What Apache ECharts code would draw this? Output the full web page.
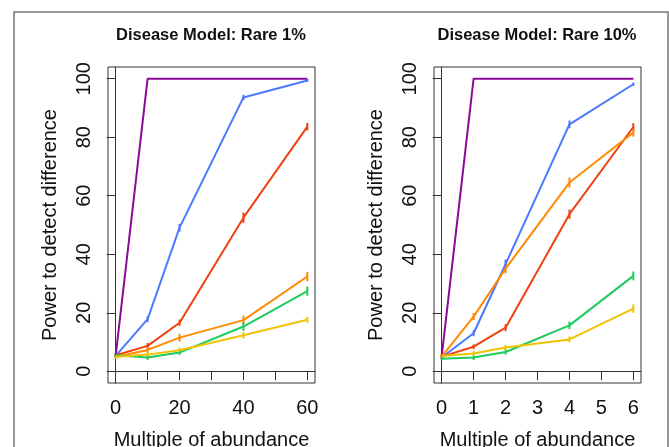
<!DOCTYPE html>
<html>
<head>
<meta charset="utf-8">
<script src="https://cdn.jsdelivr.net/npm/echarts@6/dist/echarts.min.js"></script>
<style>
  html, body { margin: 0; padding: 0; background: #fff; }
  #chart { width: 669px; height: 447px; }
</style>
</head>
<body>
<div id="chart"></div>
<script>
// x positions
const xRare1 = [0, 10, 20, 40, 60]
const xRare10 = [0, 1, 2, 4, 6]
const xTicksRare1 = [0, 10, 20, 30, 40, 50, 60]
const xLabelsRare1 = [0, 20, 40, 60]
const xTicksRare10 = [0, 1, 2, 3, 4, 5, 6]
const yTicks = [0, 20, 40, 60, 80, 100]

// Rare 1% panel (power values, error half-width)
const r1Purple = [5.3, 100, 100, 100, 100]
const r1Blue = [5.3, 17.8, 49.1, 93.6, 99.4]
const r1Red = [5.5, 8.7, 16.6, 52.5, 83.6]
const r1Orange = [4.9, 7.3, 11.5, 17.5, 32.4]
const r1Green = [5.5, 4.7, 6.4, 15.3, 27.4]
const r1Yellow = [5.0, 5.7, 7.2, 12.3, 17.6]
const r1BlueErr = [0.6, 1.0, 1.3, 0.9, 0.5]
const r1RedErr = [0.6, 1.0, 1.1, 1.8, 1.3]
const r1OrangeErr = [0.6, 1.0, 1.3, 1.5, 1.6]
const r1GreenErr = [0.6, 0.8, 0.8, 1.5, 1.6]
const r1YellowErr = [0.6, 0.8, 0.9, 1.1, 1.0]

// Rare 10% panel
const r10Purple = [5.0, 100, 100, 100, 100]
const r10Blue = [4.7, 13.0, 36.6, 84.4, 98.1]
const r10Red = [5.0, 8.4, 14.9, 53.7, 83.5]
const r10Orange = [5.0, 18.7, 35.1, 64.5, 81.6]
const r10Green = [4.3, 4.7, 6.6, 15.7, 32.6]
const r10Yellow = [5.2, 6.1, 8.1, 10.9, 21.4]
const r10BlueErr = [0.6, 1.0, 1.6, 1.3, 0.6]
const r10RedErr = [0.6, 0.8, 1.2, 1.6, 1.3]
const r10OrangeErr = [0.6, 1.2, 1.6, 1.7, 1.4]
const r10GreenErr = [0.6, 0.8, 0.9, 1.3, 1.5]
const r10YellowErr = [0.6, 0.8, 0.9, 1.0, 1.4]

const COLORS = {
  purple: '#8b0a9a',
  blue: '#4a78ff',
  red: '#f2410f',
  orange: '#ff8a00',
  green: '#1fcb5e',
  yellow: '#efc300'
}
const FONT = 'Liberation Sans, Arial, sans-serif'

let chart = echarts.init(document.getElementById('chart'))

function errRender (params, api) {
  let x = api.value(0)
  let p1 = api.coord([x, api.value(1)])
  let p2 = api.coord([x, api.value(2)])
  return {
    type: 'line',
    shape: {x1: p1[0], y1: p1[1], x2: p2[0], y2: p2[1]},
    style: {stroke: api.visual('color'), lineWidth: 2}
  }
}

function addSeries (series, idx, xs, ys, errs, color) {
  series.push({
    type: 'line',
    xAxisIndex: idx,
    yAxisIndex: idx,
    data: xs.map((x, i) => [x, ys[i]]),
    showSymbol: false,
    silent: true,
    lineStyle: {color: color, width: 2},
    itemStyle: {color: color}
  })
  if (errs) {
    series.push({
      type: 'custom',
      xAxisIndex: idx,
      yAxisIndex: idx,
      data: xs.map((x, i) => [x, ys[i] - errs[i], ys[i] + errs[i]]),
      encode: {x: 0, y: [1, 2]},
      renderItem: errRender,
      silent: true,
      itemStyle: {color: color}
    })
  }
}

let series = []
addSeries(series, 0, xRare1, r1Purple, null, COLORS.purple)
addSeries(series, 0, xRare1, r1Blue, r1BlueErr, COLORS.blue)
addSeries(series, 0, xRare1, r1Red, r1RedErr, COLORS.red)
addSeries(series, 0, xRare1, r1Orange, r1OrangeErr, COLORS.orange)
addSeries(series, 0, xRare1, r1Green, r1GreenErr, COLORS.green)
addSeries(series, 0, xRare1, r1Yellow, r1YellowErr, COLORS.yellow)
addSeries(series, 1, xRare10, r10Purple, null, COLORS.purple)
addSeries(series, 1, xRare10, r10Blue, r10BlueErr, COLORS.blue)
addSeries(series, 1, xRare10, r10Red, r10RedErr, COLORS.red)
addSeries(series, 1, xRare10, r10Orange, r10OrangeErr, COLORS.orange)
addSeries(series, 1, xRare10, r10Green, r10GreenErr, COLORS.green)
addSeries(series, 1, xRare10, r10Yellow, r10YellowErr, COLORS.yellow)

function makeX (idx, min, max, ticks, labels) {
  return {
    type: 'value',
    gridIndex: idx,
    min: min,
    max: max,
    name: 'Multiple of abundance',
    nameLocation: 'middle',
    nameGap: 47,
    nameTextStyle: {fontFamily: FONT, fontSize: 20, color: '#111'},
    axisLine: {show: true, lineStyle: {color: '#333', width: 1}},
    axisTick: {show: true, inside: false, length: 9, customValues: ticks, lineStyle: {color: '#333', width: 1}},
    axisLabel: {customValues: labels, margin: 15, fontFamily: FONT, fontSize: 20, color: '#111'},
    splitLine: {show: false}
  }
}

function makeY (idx) {
  return {
    type: 'value',
    gridIndex: idx,
    min: -4,
    max: 104,
    name: 'Power to detect difference',
    nameLocation: 'middle',
    nameRotate: 90,
    nameGap: 48,
    nameTextStyle: {fontFamily: FONT, fontSize: 20, color: '#111'},
    axisLine: {show: true, lineStyle: {color: '#333', width: 1}},
    axisTick: {show: true, inside: false, length: 9, customValues: yTicks, lineStyle: {color: '#333', width: 1}},
    axisLabel: {customValues: yTicks, rotate: 90, margin: 14, fontFamily: FONT, fontSize: 20, color: '#111'},
    splitLine: {show: false}
  }
}

let option = {
  backgroundColor: '#fff',
  animation: false,
  title: [
    {text: 'Disease Model: Rare 1%', left: 211, top: 27, textAlign: 'center', padding: 0,
      textStyle: {fontFamily: FONT, fontSize: 16.5, fontWeight: 'bold', color: '#111'}},
    {text: 'Disease Model: Rare 10%', left: 537, top: 27, textAlign: 'center', padding: 0,
      textStyle: {fontFamily: FONT, fontSize: 16.5, fontWeight: 'bold', color: '#111'}}
  ],
  grid: [
    {left: 108, top: 67, width: 207, height: 316, containLabel: false, outerBoundsMode: 'none',
      show: true, borderColor: '#333', borderWidth: 1, backgroundColor: 'transparent'},
    {left: 434, top: 67, width: 207, height: 316, containLabel: false, outerBoundsMode: 'none',
      show: true, borderColor: '#333', borderWidth: 1, backgroundColor: 'transparent'}
  ],
  xAxis: [
    makeX(0, -2.4, 62.4, xTicksRare1, xLabelsRare1),
    makeX(1, -0.24, 6.24, xTicksRare10, xTicksRare10)
  ],
  yAxis: [makeY(0), makeY(1)],
  graphic: [
    {type: 'rect', shape: {x: 14, y: 12, width: 654, height: 460}, style: {fill: 'none', stroke: '#777', lineWidth: 1.5}, silent: true}
  ],
  series: series
}
chart.setOption(option)
</script>
</body>
</html>
